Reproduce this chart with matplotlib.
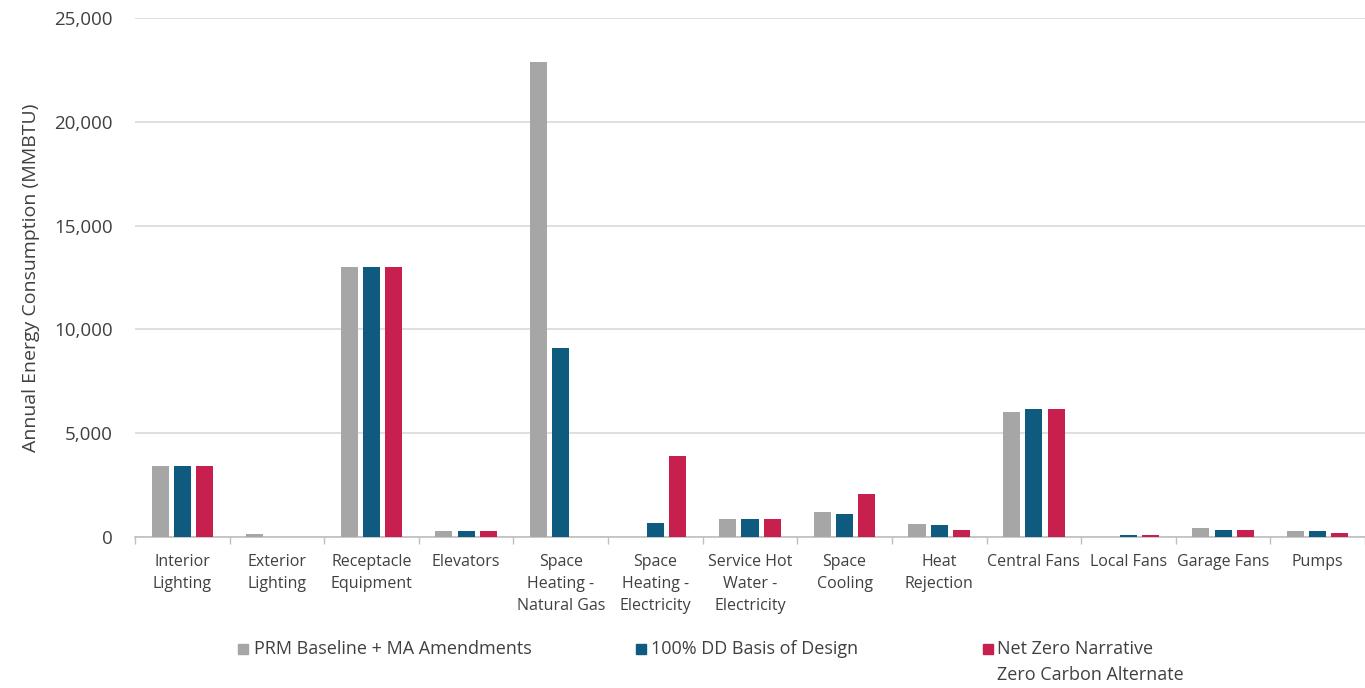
import matplotlib
matplotlib.use("Agg")
import matplotlib.pyplot as plt
import numpy as np
from matplotlib.ticker import FuncFormatter, FixedLocator
from matplotlib.patches import Rectangle

plt.rcParams['font.family'] = ['Open Sans', 'DejaVu Sans']

categories = ["Interior\nLighting", "Exterior\nLighting", "Receptacle\nEquipment", "Elevators",
              "Space\nHeating -\nNatural Gas", "Space\nHeating -\nElectricity",
              "Service Hot\nWater -\nElectricity", "Space\nCooling", "Heat\nRejection",
              "Central Fans", "Local Fans", "Garage Fans", "Pumps"]
series_names = ["PRM Baseline + MA Amendments", "100% DD Basis of Design",
                "Net Zero Narrative\nZero Carbon Alternate"]
baseline = [3400, 150, 13000, 300, 22900, 0, 850, 1200, 630, 6000, 0, 430, 290]
design = [3400, 0, 13000, 300, 9100, 670, 870, 1130, 600, 6160, 80, 340, 290]
netzero = [3400, 0, 13000, 300, 0, 3900, 850, 2070, 340, 6160, 80, 340, 190]
colors = ["#A6A6A6", "#0F5B80", "#C8204E"]

W, H = 1365, 688
fig = plt.figure(figsize=(W / 100, H / 100), dpi=100)
ax = fig.add_axes([135 / W, 1 - 537 / H, 1230 / W, (537 - 18) / H])

x = np.arange(len(categories))
w = 0.18
off = 0.235
for i, (vals, c, n) in enumerate(zip([baseline, design, netzero], colors, series_names)):
    ax.bar(x + (i - 1) * off, vals, width=w, color=c, label=n, zorder=3)

ax.set_xlim(-0.5, len(categories) - 0.5)
ax.set_ylim(0, 25000)
ax.yaxis.set_major_locator(FixedLocator([0, 5000, 10000, 15000, 20000, 25000]))
ax.yaxis.set_major_formatter(FuncFormatter(lambda v, p: f"{int(v):,}"))
ax.grid(axis='y', color='#D9D9D9', linewidth=1.2, zorder=0)
for s in ['top', 'right', 'left']:
    ax.spines[s].set_visible(False)
ax.spines['bottom'].set_color('#BFBFBF')
ax.spines['bottom'].set_linewidth(1.2)
ax.tick_params(axis='y', length=0, labelsize=13.5, colors='#404040', pad=16)
ax.set_xticks(x)
ax.set_xticklabels(categories, fontsize=11.5, color='#404040', linespacing=1.5)
ax.tick_params(axis='x', length=0, pad=12)
ax.set_xticks(np.arange(len(categories) + 1) - 0.5, minor=True)
ax.tick_params(axis='x', which='minor', length=5, color='#BFBFBF', width=1)
ax.set_ylabel("Annual Energy Consumption (MMBTU)", fontsize=14, color='#404040', labelpad=10)

# legend drawn manually at the bottom
sq_x = [238, 636, 983]
txt_x = [254, 651, 997]
ly = 649
s = 10
for c, n, sx, tx in zip(colors, series_names, sq_x, txt_x):
    fig.patches.append(Rectangle((sx / W, 1 - (ly + s / 2) / H), s / W, s / H,
                                 transform=fig.transFigure, color=c, figure=fig))
    for k, line in enumerate(n.split("\n")):
        fig.text(tx / W, 1 - (ly + 26 * k) / H, line, fontsize=13, color='#404040',
                 va='center', ha='left')

fig.savefig("out.png", dpi=100, facecolor='white')
